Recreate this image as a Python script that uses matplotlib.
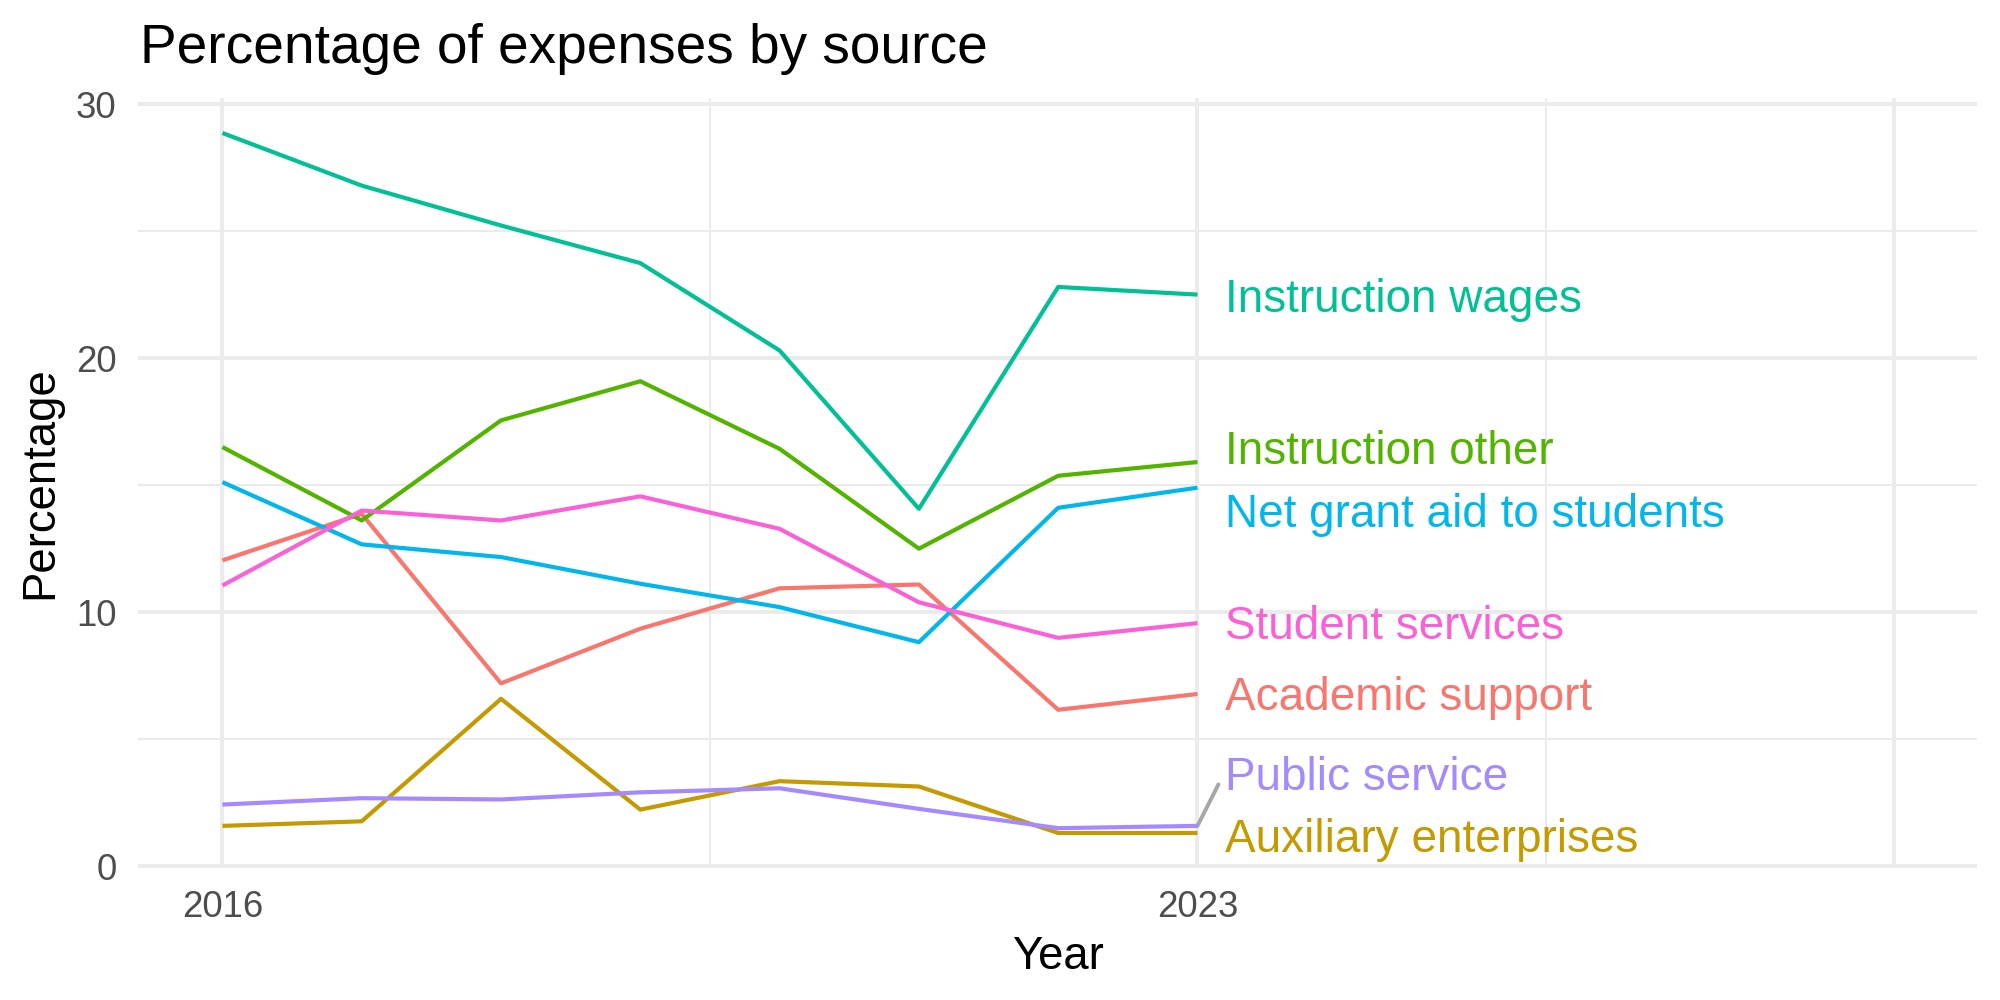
import matplotlib
matplotlib.use('Agg')

import numpy as np
import matplotlib.pyplot as plt
from matplotlib.ticker import FixedLocator

plt.rcParams['font.family'] = ['Liberation Sans', 'DejaVu Sans']

years = [2016, 2017, 2018, 2019, 2020, 2021, 2022, 2023]

sources = ['Academic support', 'Auxiliary enterprises', 'Instruction other',
           'Instruction wages', 'Net grant aid to students', 'Public service',
           'Student services']

academic_support = [12.04, 13.87, 7.20, 9.35, 10.94, 11.09, 6.16, 6.78]
auxiliary = [1.59, 1.77, 6.59, 2.23, 3.35, 3.14, 1.31, 1.31]
instruction_other = [16.50, 13.61, 17.55, 19.09, 16.43, 12.50, 15.37, 15.91]
instruction_wages = [28.86, 26.79, 25.22, 23.74, 20.30, 14.07, 22.80, 22.50]
net_grant_aid = [15.12, 12.67, 12.17, 11.12, 10.20, 8.82, 14.11, 14.90]
public_service = [2.43, 2.68, 2.63, 2.91, 3.07, 2.26, 1.50, 1.59]
student_services = [11.05, 14.00, 13.61, 14.56, 13.28, 10.39, 8.99, 9.57]

series = [academic_support, auxiliary, instruction_other, instruction_wages,
          net_grant_aid, public_service, student_services]

# ggplot default hue palette for 7 groups
colors = ['#F8766D', '#C49A00', '#53B400', '#00C094', '#00B6EB', '#A58AFF', '#FB61D7']

# repelled label baselines (right of the last year)
label_y = [6.14, 0.55, 15.83, 21.82, 13.37, 3.00, 8.96]
label_x = 2023.2

fig = plt.figure(figsize=(10, 5), dpi=200)
ax = fig.add_axes([0.069, 0.132, 0.9195, 0.770])

grid_col = '#EBEBEB'
ax.set_xlim(2015.394, 2028.596)
ymin = min(min(s) for s in series)
ymax = max(max(s) for s in series)
pad = (ymax - ymin) * 0.05
ax.set_ylim(ymin - pad, ymax + pad)

ax.set_xticks([2016, 2023, 2028])
ax.set_xticklabels(['2016', '2023', ''])
ax.xaxis.set_minor_locator(FixedLocator([2019.5, 2025.5]))
ax.set_yticks([0, 10, 20, 30])
ax.yaxis.set_minor_locator(FixedLocator([5, 15, 25]))
ax.grid(which='major', color=grid_col, linewidth=1.42)
ax.grid(which='minor', color=grid_col, linewidth=0.71)
ax.set_axisbelow(True)
for sp in ax.spines.values():
    sp.set_visible(False)
ax.tick_params(which='both', length=0)
ax.tick_params(axis='both', labelsize=13.2, labelcolor='#4D4D4D')
ax.tick_params(axis='x', pad=7.8)
ax.tick_params(axis='y', pad=7.7)

for vals, col in zip(series, colors):
    ax.plot(years, vals, color=col, linewidth=1.5, solid_capstyle='butt', zorder=3)

for name, vals, col, ly in zip(sources, series, colors, label_y):
    ax.text(label_x, ly, name, color=col, fontsize=16.5, ha='left', va='baseline')

# repel segment for Public service
ax.plot([years[-1], 2023.15], [public_service[-1], 3.22], color='#A6A6A6',
        linewidth=1.42, solid_capstyle='round', zorder=2)

ax.set_xlabel('Year', fontsize=16.4, labelpad=3.8)
ax.set_ylabel('Percentage', fontsize=16.4, labelpad=5.0)

fig.text(0.07, 0.937, 'Percentage of expenses by source', fontsize=19.8,
         ha='left', va='baseline')

fig.savefig('out.png', dpi=200, facecolor='white')
